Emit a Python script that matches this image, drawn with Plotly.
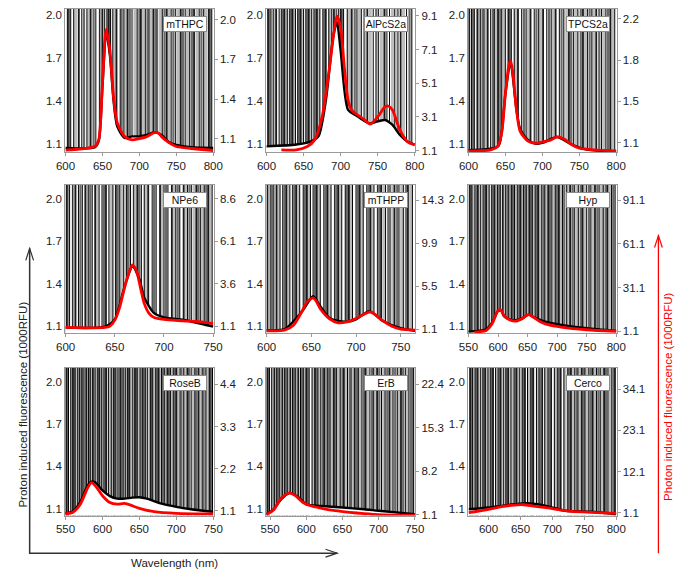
import plotly.graph_objects as go

# ------------------------------------------------------------------ data
panel_names = ["mTHPC", "AlPcS2a", "TPCS2a", "NPe6", "mTHPP", "Hyp", "RoseB", "ErB", "Cerco"]

x_ticks = [[600, 650, 700, 750, 800]] * 3 + [[600, 650, 700, 750]] * 2 + \
          [[550, 600, 650, 700, 750, 800]] + [[550, 600, 650, 700, 750]] * 2 + [[600, 650, 700, 750, 800]]

left_ticks = [1.1, 1.4, 1.7, 2.0]
right_ticklabels = [
    ["1.1", "1.4", "1.7", "2.0"],
    ["1.1", "3.1", "5.1", "7.1", "9.1"],
    ["1.1", "1.5", "1.8", "2.2"],
    ["1.1", "3.6", "6.1", "8.6"],
    ["1.1", "5.5", "9.9", "14.3"],
    ["1.1", "31.1", "61.1", "91.1"],
    ["1.1", "2.2", "3.3", "4.4"],
    ["1.1", "8.2", "15.3", "22.4"],
    ["1.1", "12.1", "23.1", "34.1"],
]
right_top = [2.0, 9.1, 2.2, 8.6, 14.3, 91.1, 4.4, 22.4, 34.1]

# photon induced fluorescence (red, right axis)
red_x_mTHPC = [600, 640, 645, 650, 655, 660, 665, 670, 680, 690, 700, 710, 720, 725, 730, 740, 750, 770, 800]
red_y_mTHPC = [1.012, 1.042, 1.092, 1.52, 1.93, 1.77, 1.415, 1.22, 1.115, 1.09, 1.10, 1.115, 1.145, 1.145, 1.115, 1.07, 1.04, 1.025, 1.01]
red_x_AlPcS2a = [620, 640, 655, 665, 675, 685, 690, 695, 700, 705, 710, 715, 720, 730, 740, 750, 760, 765, 770, 780, 790, 800]
red_y_AlPcS2a = [1.14, 1.14, 1.34, 1.73, 3.1, 6.05, 7.8, 9.1, 8.4, 6.05, 4.1, 3.5, 3.3, 3.0, 2.67, 3.1, 3.7, 3.73, 3.5, 2.32, 1.63, 1.43]
red_x_TPCS2a = [600, 630, 640, 645, 650, 655, 657, 660, 665, 670, 680, 690, 700, 710, 720, 730, 740, 750, 770, 800]
red_y_TPCS2a = [1.027, 1.035, 1.07, 1.19, 1.54, 1.80, 1.83, 1.72, 1.39, 1.20, 1.115, 1.094, 1.106, 1.12, 1.15, 1.13, 1.08, 1.05, 1.035, 1.027]
red_x_NPe6 = [600, 640, 645, 650, 655, 660, 665, 668, 672, 676, 680, 685, 690, 700, 720, 740, 750]
red_y_NPe6 = [1.02, 1.02, 1.1, 1.45, 2.22, 3.38, 4.35, 4.7, 4.35, 3.38, 2.42, 1.83, 1.6, 1.49, 1.41, 1.33, 1.25]
red_x_mTHPP = [600, 620, 630, 640, 645, 652, 655, 660, 670, 680, 690, 700, 710, 715, 720, 730, 740, 750, 766]
red_y_mTHPP = [0.93, 1.0, 1.5, 3.0, 3.86, 4.3, 4.03, 3.19, 2.18, 1.74, 1.84, 2.18, 2.68, 2.85, 2.68, 1.94, 1.4, 1.1, 1.0]
red_x_Hyp = [560, 580, 590, 600, 605, 610, 620, 630, 640, 652, 660, 670, 680, 700, 720, 750, 800]
red_y_Hyp = [0.42, 1.55, 6.1, 15.2, 15.6, 11.8, 8.8, 7.9, 9.5, 12.4, 10.6, 7.9, 6.1, 4.3, 3.1, 2.0, 0.87]
red_x_RoseB = [550, 560, 570, 580, 585, 590, 600, 610, 620, 630, 640, 650, 670, 700, 750]
red_y_RoseB = [1.014, 1.057, 1.27, 1.70, 1.83, 1.76, 1.49, 1.31, 1.27, 1.29, 1.23, 1.16, 1.074, 1.03, 1.014]
red_x_ErB = [545, 555, 565, 577, 585, 595, 605, 620, 640, 660, 680, 700, 750]
red_y_ErB = [1.1, 1.9, 3.76, 4.67, 4.19, 3.12, 2.59, 2.16, 1.74, 1.47, 1.26, 1.1, 0.99]
red_x_Cerco = [569, 600, 620, 640, 655, 670, 690, 710, 730, 760, 800]
red_y_Cerco = [1.1, 1.98, 2.68, 3.12, 3.21, 2.86, 2.42, 1.89, 1.45, 1.19, 0.92]

# proton induced fluorescence baseline (black, left axis)
blk_x_mTHPC = [600, 640, 645, 650, 655, 660, 665, 670, 680, 690, 700, 710, 720, 730, 740, 750, 770, 800]
blk_y_mTHPC = [1.07, 1.075, 1.12, 1.5, 1.88, 1.72, 1.4, 1.22, 1.14, 1.15, 1.15, 1.16, 1.18, 1.16, 1.11, 1.09, 1.075, 1.07]
blk_x_AlPcS2a = [600, 640, 660, 670, 680, 690, 695, 700, 710, 720, 730, 740, 750, 760, 770, 780, 790, 800]
blk_y_AlPcS2a = [1.08, 1.093, 1.116, 1.15, 1.40, 1.85, 1.95, 1.75, 1.335, 1.30, 1.265, 1.24, 1.255, 1.265, 1.23, 1.16, 1.115, 1.093]
blk_x_TPCS2a = [600, 640, 645, 650, 657, 665, 670, 680, 690, 700, 720, 740, 760, 800]
blk_y_TPCS2a = [1.054, 1.08, 1.18, 1.45, 1.66, 1.335, 1.2, 1.128, 1.10, 1.105, 1.146, 1.093, 1.058, 1.047]
blk_x_NPe6 = [600, 640, 650, 660, 668, 675, 680, 690, 700, 720, 740, 750]
blk_y_NPe6 = [1.088, 1.095, 1.147, 1.38, 1.52, 1.43, 1.30, 1.19, 1.16, 1.142, 1.112, 1.095]
blk_x_mTHPP = [600, 620, 640, 652, 660, 670, 680, 690, 700, 715, 730, 750, 766]
blk_y_mTHPP = [1.07, 1.077, 1.205, 1.31, 1.24, 1.158, 1.135, 1.13, 1.147, 1.205, 1.135, 1.084, 1.065]
blk_x_Hyp = [550, 580, 590, 600, 605, 610, 620, 630, 640, 652, 660, 680, 700, 750, 800]
blk_y_Hyp = [1.06, 1.077, 1.123, 1.205, 1.21, 1.17, 1.147, 1.14, 1.153, 1.18, 1.163, 1.13, 1.112, 1.084, 1.065]
blk_x_RoseB = [550, 560, 570, 580, 585, 590, 600, 610, 620, 630, 640, 650, 660, 680, 700, 720, 750]
blk_y_RoseB = [1.065, 1.08, 1.147, 1.263, 1.29, 1.286, 1.228, 1.188, 1.17, 1.17, 1.177, 1.18, 1.17, 1.135, 1.112, 1.095, 1.077]
blk_x_ErB = [545, 555, 565, 577, 590, 600, 620, 650, 680, 700, 750]
blk_y_ErB = [1.06, 1.095, 1.165, 1.21, 1.177, 1.13, 1.119, 1.107, 1.095, 1.084, 1.06]
blk_x_Cerco = [569, 600, 640, 660, 690, 720, 760, 800]
blk_y_Cerco = [1.095, 1.107, 1.13, 1.137, 1.119, 1.084, 1.077, 1.06]

# wavelengths of the noise spikes (black and grey)
spk_b_mTHPC = [603, 607, 611, 618, 622, 629, 634, 641, 646, 650, 653, 656, 658, 661, 664, 669, 674, 679, 684, 690, 697, 702, 708, 713, 719, 724, 731, 737, 743, 749, 756, 762, 768, 774, 781, 787, 794, 798]
spk_g_mTHPC = [605, 614, 625, 632, 638, 648, 660, 667, 676, 682, 687, 694, 700, 705, 711, 716, 722, 728, 734, 740, 746, 753, 759, 765, 771, 778, 784, 790, 796]
spk_b_AlPcS2a = [602, 606, 609, 613, 617, 620, 624, 628, 631, 635, 639, 642, 646, 650, 653, 657, 661, 664, 668, 672, 676, 680, 684, 688, 691, 694, 697, 700, 704, 709, 715, 722, 728, 736, 744, 751, 759, 766, 773, 781, 789, 796]
spk_g_AlPcS2a = [604, 611, 622, 626, 633, 637, 644, 648, 655, 659, 666, 670, 678, 686, 702, 712, 719, 725, 732, 740, 748, 755, 762, 770, 777, 785, 793]
spk_b_TPCS2a = [601, 604, 608, 612, 616, 621, 626, 630, 635, 640, 645, 650, 654, 658, 662, 667, 672, 678, 684, 689, 695, 701, 706, 712, 718, 723, 729, 736, 742, 748, 755, 761, 767, 773, 780, 786, 792, 798]
spk_g_TPCS2a = [606, 614, 619, 624, 633, 638, 643, 648, 656, 665, 675, 681, 692, 698, 709, 715, 726, 733, 739, 745, 752, 758, 764, 770, 777, 783, 789, 795]
spk_b_NPe6 = [601, 604, 607, 610, 613, 617, 620, 623, 627, 630, 634, 637, 641, 644, 648, 651, 655, 659, 662, 666, 669, 673, 677, 680, 684, 688, 692, 696, 700, 704, 708, 712, 716, 720, 724, 728, 733, 737, 741, 745, 749]
spk_g_NPe6 = [602, 608, 615, 621, 625, 632, 639, 646, 653, 657, 664, 671, 675, 682, 690, 698, 702, 710, 714, 722, 726, 731, 735, 739, 743, 747]
spk_b_mTHPP = [601, 604, 608, 611, 615, 618, 622, 626, 629, 633, 637, 641, 645, 649, 652, 656, 660, 664, 668, 672, 676, 680, 684, 688, 692, 696, 700, 704, 708, 712, 716, 720, 724, 728, 733, 738, 743, 748, 753, 758, 763]
spk_g_mTHPP = [606, 613, 620, 624, 631, 635, 643, 647, 654, 658, 666, 670, 678, 682, 690, 694, 702, 706, 714, 718, 726, 731, 736, 741, 746, 751, 756, 761]
spk_b_Hyp = [552, 556, 561, 566, 570, 575, 580, 585, 589, 594, 599, 604, 608, 613, 618, 623, 628, 633, 638, 643, 648, 653, 658, 663, 668, 674, 679, 685, 691, 697, 703, 709, 716, 722, 729, 736, 743, 750, 757, 764, 771, 778, 785, 792, 798]
spk_g_Hyp = [554, 559, 564, 572, 578, 583, 591, 597, 602, 610, 616, 621, 626, 631, 636, 641, 646, 651, 656, 661, 666, 671, 677, 682, 688, 694, 700, 706, 712, 719, 726, 733, 740, 747, 754, 761, 768, 775, 782, 789, 795]
spk_b_RoseB = [551, 554, 557, 560, 563, 566, 569, 572, 575, 578, 581, 584, 587, 590, 593, 596, 599, 602, 605, 608, 612, 615, 618, 621, 624, 628, 631, 634, 637, 641, 644, 647, 651, 654, 658, 661, 665, 668, 672, 676, 680, 684, 688, 692, 696, 700, 705, 710, 715, 720, 725, 730, 735, 740, 745, 749]
spk_g_RoseB = [552, 558, 562, 568, 573, 579, 583, 589, 594, 600, 604, 610, 616, 620, 626, 630, 636, 640, 646, 650, 656, 660, 666, 670, 674, 678, 682, 686, 690, 694, 698, 702, 707, 712, 717, 722, 727, 732, 737, 742, 747]
spk_b_ErB = [546, 549, 552, 556, 559, 563, 567, 570, 574, 578, 581, 585, 589, 592, 596, 600, 604, 608, 612, 616, 620, 625, 629, 633, 638, 642, 647, 652, 657, 662, 667, 672, 677, 682, 688, 693, 698, 704, 709, 715, 720, 726, 731, 737, 742, 748]
spk_g_ErB = [548, 554, 561, 565, 572, 576, 583, 587, 594, 598, 602, 610, 614, 618, 623, 627, 631, 636, 640, 645, 650, 655, 660, 665, 670, 675, 680, 685, 691, 696, 701, 707, 712, 718, 723, 729, 734, 740, 745]
spk_b_Cerco = [571, 575, 579, 583, 587, 591, 595, 599, 603, 607, 611, 615, 619, 623, 627, 631, 635, 640, 644, 648, 653, 657, 661, 666, 670, 675, 679, 684, 688, 693, 698, 703, 708, 713, 718, 724, 729, 735, 740, 746, 751, 757, 763, 769, 775, 781, 787, 793, 798]
spk_g_Cerco = [573, 577, 581, 589, 593, 601, 605, 613, 617, 625, 629, 637, 642, 650, 655, 663, 668, 677, 681, 690, 695, 705, 710, 720, 726, 732, 738, 743, 749, 754, 760, 766, 772, 778, 784, 790, 796]

red_x = [red_x_mTHPC, red_x_AlPcS2a, red_x_TPCS2a, red_x_NPe6, red_x_mTHPP, red_x_Hyp, red_x_RoseB, red_x_ErB, red_x_Cerco]
red_y = [red_y_mTHPC, red_y_AlPcS2a, red_y_TPCS2a, red_y_NPe6, red_y_mTHPP, red_y_Hyp, red_y_RoseB, red_y_ErB, red_y_Cerco]
blk_x = [blk_x_mTHPC, blk_x_AlPcS2a, blk_x_TPCS2a, blk_x_NPe6, blk_x_mTHPP, blk_x_Hyp, blk_x_RoseB, blk_x_ErB, blk_x_Cerco]
blk_y = [blk_y_mTHPC, blk_y_AlPcS2a, blk_y_TPCS2a, blk_y_NPe6, blk_y_mTHPP, blk_y_Hyp, blk_y_RoseB, blk_y_ErB, blk_y_Cerco]
spk_b = [spk_b_mTHPC, spk_b_AlPcS2a, spk_b_TPCS2a, spk_b_NPe6, spk_b_mTHPP, spk_b_Hyp, spk_b_RoseB, spk_b_ErB, spk_b_Cerco]
spk_g = [spk_g_mTHPC, spk_g_AlPcS2a, spk_g_TPCS2a, spk_g_NPe6, spk_g_mTHPP, spk_g_Hyp, spk_g_RoseB, spk_g_ErB, spk_g_Cerco]

# ------------------------------------------------------------------ layout config
OFF = 8                      # page body margin of the html page
W, H = 683 - OFF, 575 - OFF  # figure size so the page fits the window
col_px = [(57.5, 210), (264, 417), (471.5, 624)]          # page pixel positions
row_px = [(OFF, 153), (185.5, 335.5), (370.5, 520)]
x_ranges = [[599.5, 800.5], [599.5, 800.5], [599.5, 800.5], [599.5, 750.5], [599.5, 766],
            [549.5, 800.5], [549.5, 750.5], [544.5, 750.5], [568, 800.5]]
left_ranges = [[1.0377, 2.0415], [1.05, 2.098], [1.05, 2.098]]
right_ranges = [[0.995, 2.0825], [0.982, 9.512], [1.012, 2.288], [0.693, 9.414], [0.694, 15.92],
                [-0.26, 102.0], [0.971, 4.838], [0.94, 25.14], [0.308, 39.9]]

FONT = "Liberation Sans, Arial, Helvetica, sans-serif"
FRAME = "#9a9a9a"
SPK_TOP, SPK_BOT = 2.3, 1.0


def fx(x):
    return (x - OFF) / W


def fy(y):
    return 1 - (y - OFF) / H


def spike_xy(xs):
    X, Y = [], []
    for s in xs:
        X += [s, s, None]
        Y += [SPK_BOT, SPK_TOP, None]
    return X, Y


fig = go.Figure()
layout = dict(
    width=W, height=H, margin=dict(l=0, r=0, t=0, b=0),
    paper_bgcolor="white", plot_bgcolor="white", showlegend=False,
    font=dict(family=FONT, size=11, color="#222"),
)
annotations, shapes = [], []

for i, name in enumerate(panel_names):
    n = i + 1
    r, c = divmod(i, 3)
    xa = "x" if n == 1 else f"x{n}"
    ya = "y" if n == 1 else f"y{n}"
    ya2 = f"y{n + 9}"
    xkey = "xaxis" if n == 1 else f"xaxis{n}"
    ykey = "yaxis" if n == 1 else f"yaxis{n}"
    y2key = f"yaxis{n + 9}"

    groups = (
        (spk_g[i][1::2], "#bdbdbd", 3.0),
        (spk_g[i][0::2], "#6a6a6a", 2.2),
        (spk_b[i][0::3], "#1a1a1a", 1.8),
        (spk_b[i][1::3], "#000000", 1.0),
        (spk_b[i][2::3], "#2e2e2e", 1.3),
    )
    for grp, col, wd in groups:
        X, Y = spike_xy(grp)
        fig.add_trace(go.Scatter(x=X, y=Y, mode="lines", line=dict(color=col, width=wd),
                                 xaxis=xa, yaxis=ya, hoverinfo="skip"))
    fig.add_trace(go.Scatter(x=blk_x[i], y=blk_y[i], mode="lines",
                             line=dict(color="#000", width=2.4, shape="spline", smoothing=0.7),
                             fill="tozeroy", fillcolor="white", xaxis=xa, yaxis=ya, hoverinfo="skip"))
    fig.add_trace(go.Scatter(x=red_x[i], y=red_y[i], mode="lines",
                             line=dict(color="#ff0000", width=2.8, shape="spline", smoothing=0.7),
                             xaxis=xa, yaxis=ya2, hoverinfo="skip"))

    x0, x1 = col_px[c]
    y0, y1 = row_px[r]
    layout[xkey] = dict(domain=[fx(x0), fx(x1)], range=x_ranges[i], anchor=ya,
                        tickvals=x_ticks[i], ticks="outside", ticklen=3, tickcolor=FRAME,
                        showline=True, mirror=True, linecolor=FRAME, linewidth=1,
                        showgrid=False, zeroline=False, tickfont=dict(size=11.5, color="#222"))
    layout[ykey] = dict(domain=[fy(y1), min(1.0, fy(y0))], range=left_ranges[r], anchor=xa,
                        tickvals=left_ticks, ticktext=[f"{v:.1f}" for v in left_ticks],
                        ticks="", showline=True, mirror=True, linecolor=FRAME, linewidth=1,
                        showgrid=False, zeroline=False, tickfont=dict(size=11.5, color="#222"))
    nt = len(right_ticklabels[i])
    rvals = [1.1 + k * (right_top[i] - 1.1) / (nt - 1) for k in range(nt)]
    layout[y2key] = dict(overlaying=ya, side="right", anchor=xa, range=right_ranges[i],
                         tickvals=rvals, ticktext=right_ticklabels[i], ticks="outside", ticklen=3,
                         tickcolor=FRAME, showline=False, showgrid=False, zeroline=False,
                         tickfont=dict(size=11.5, color="#222"))
    annotations.append(dict(text=name, xref="paper", yref="paper", x=fx(x1 - 7),
                            y=fy(y0 + 7 if r else 15),
                            xanchor="right", yanchor="top", showarrow=False, width=40, height=12,
                            bgcolor="white", bordercolor="#8a8a8a", borderwidth=1, borderpad=1,
                            font=dict(size=10.5, color="#111")))

annotations.append(dict(text="Proton induced fluorescence (1000RFU)", xref="paper", yref="paper",
                        x=fx(14), y=fy(408), xanchor="center", yanchor="middle", textangle=-90,
                        showarrow=False, font=dict(size=11.5, color="#222")))
annotations.append(dict(text="Photon induced fluorescence (1000RFU)", xref="paper", yref="paper",
                        x=fx(677), y=fy(400), xanchor="center", yanchor="middle", textangle=-90,
                        showarrow=False, font=dict(size=11.5, color="#ff0000")))
annotations.append(dict(text="Wavelength (nm)", xref="paper", yref="paper",
                        x=fx(170), y=fy(568), xanchor="center", yanchor="middle",
                        showarrow=False, font=dict(size=11.5, color="#222")))

AX = "#333333"
shapes.append(dict(type="path", xref="paper", yref="paper",
                   path=f"M {fx(21)},{fy(250)} L {fx(21)},{fy(558)} L {fx(337)},{fy(558)}",
                   line=dict(color=AX, width=1.5)))
shapes.append(dict(type="path", xref="paper", yref="paper",
                   path=f"M {fx(17)},{fy(262)} L {fx(21)},{fy(250)} L {fx(25)},{fy(262)}",
                   line=dict(color=AX, width=1.2)))
shapes.append(dict(type="path", xref="paper", yref="paper",
                   path=f"M {fx(325)},{fy(554)} L {fx(337)},{fy(558)} L {fx(325)},{fy(562)}",
                   line=dict(color=AX, width=1.2)))
shapes.append(dict(type="line", xref="paper", yref="paper",
                   x0=fx(667), y0=fy(237), x1=fx(667), y1=fy(558),
                   line=dict(color="#ff0000", width=1.3)))
shapes.append(dict(type="path", xref="paper", yref="paper",
                   path=f"M {fx(663)},{fy(249)} L {fx(667)},{fy(237)} L {fx(671)},{fy(249)}",
                   line=dict(color="#ff0000", width=1.2)))

layout["annotations"] = annotations
layout["shapes"] = shapes
fig.update_layout(**layout)
fig.write_html("out.html")
